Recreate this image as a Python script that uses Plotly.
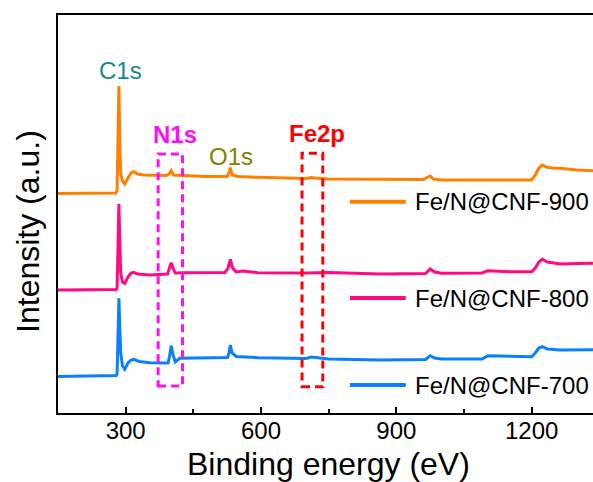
import plotly.graph_objects as go

# XPS survey spectra, binding energy (eV) vs. stacked intensity (a.u.)
energy_900 = [150, 200, 250, 278, 281, 283, 285, 287, 289, 293, 298, 305, 312, 318, 326, 340,
              354, 372, 390, 396, 401, 406, 420, 450, 480, 510, 525, 529, 532, 536, 550, 593,
              650, 700, 712, 720, 750, 800, 864, 960, 970, 975, 982, 1000, 1050, 1100, 1150,
              1200, 1208, 1216, 1224, 1232, 1245, 1263, 1300, 1336]
intensity_900 = [219.5, 219.8, 219.6, 220, 222, 270, 327, 270, 240, 232, 229, 235, 240, 241.3, 239, 238,
                 238, 237.3, 237.5, 239, 242.3, 238, 237.5, 237, 236.5, 236.3, 236.5, 240, 245.3, 238, 236.5, 235.7,
                 235, 234.5, 235.5, 235, 234, 234, 233.7, 233.5, 236, 237, 234, 233, 233, 233, 232.8,
                 233, 238, 245, 248, 246, 245, 244.7, 243, 242.3]

energy_800 = [150, 250, 279, 281, 283, 285, 287, 289, 293, 298, 305, 312, 318, 326, 354, 380,
              393, 397, 401, 405, 410, 430, 480, 520, 527, 532, 537, 545, 560, 593, 700, 750,
              864, 965, 975, 985, 1000, 1050, 1090, 1103, 1150, 1200, 1208, 1216, 1224, 1235,
              1263, 1300, 1336]
intensity_800 = [123, 123.2, 123.5, 125, 180, 209, 170, 140, 131, 129.7, 136, 140, 140.7, 139, 138, 138.5,
                 139, 145, 150.3, 145, 140, 140.3, 140.5, 140.5, 145, 153.7, 145, 141, 142, 140.3, 140, 140.5,
                 139, 139.5, 144, 141, 139.7, 139.5, 140, 142.3, 141.3, 141.3, 145, 151, 153.7, 151,
                 149, 149.5, 149.7]

energy_700 = [150, 250, 279, 281, 283, 285, 287, 289, 293, 298, 305, 312, 318, 330, 354, 380,
              394, 397, 401, 405, 410, 420, 450, 500, 526, 529, 532, 536, 545, 593, 650, 700,
              712, 720, 750, 864, 965, 975, 985, 1000, 1090, 1103, 1150, 1200, 1208, 1216, 1224,
              1235, 1263, 1300, 1336]
intensity_700 = [36.5, 37, 37.5, 39, 90, 114.7, 85, 60, 47, 43.7, 50, 53, 53.7, 51.5, 50.3, 49.7,
                 50, 56, 67.3, 58, 51, 54.7, 55, 55.3, 55.5, 60, 68, 60, 56.5, 55.3, 55, 54.5,
                 56, 55.5, 54, 53, 53.5, 57.3, 55, 54, 54, 57.3, 56.5, 56.3, 60, 65, 66.3,
                 64, 63, 63, 63.3]

series_names = ["Fe/N@CNF-900", "Fe/N@CNF-800", "Fe/N@CNF-700"]
series_colors = ["#FF8000", "#FF0A80", "#0A80FF"]
series_x = [energy_900, energy_800, energy_700]
series_y = [intensity_900, intensity_800, intensity_700]

# legend rows: line-sample start/end energy and row intensity level
legend_x0, legend_x1, legend_text_x = 797, 921, 936
legend_levels = [211.3, 115, 28]

# peak labels: text, energy, intensity level, colour, bold
peak_labels = [("C1s", 288, 343, "#138A8A", False),
               ("N1s", 409, 279, "#FF10F0", True),
               ("O1s", 533, 257, "#808000", False),
               ("Fe2p", 724, 280, "#FF0000", True)]

# dashed region boxes: energy range, intensity range, colour
region_boxes = [(372, 426, 27, 259, "#FF10F0"),
                (691, 737, 26.3, 259.7, "#FF0000")]

FONT = "Arial, Liberation Sans, sans-serif"

fig = go.Figure()
for name, color, xs, ys in zip(series_names, series_colors, series_x, series_y):
    fig.add_trace(go.Scatter(x=xs, y=ys, mode="lines", name=name,
                             line=dict(color=color, width=3), showlegend=False))

shapes = []
annotations = []
for name, color, level in zip(series_names, series_colors, legend_levels):
    shapes.append(dict(type="line", xref="x", yref="y", x0=legend_x0, x1=legend_x1,
                       y0=level, y1=level, line=dict(color=color, width=4)))
    annotations.append(dict(text=name, x=legend_text_x, y=level, xref="x", yref="y",
                            xanchor="left", yanchor="middle", showarrow=False,
                            font=dict(family=FONT, size=24, color="black")))

for x0, x1, y0, y1, color in region_boxes:
    shapes.append(dict(type="rect", xref="x", yref="y", x0=x0, x1=x1, y0=y0, y1=y1,
                       line=dict(color=color, width=3, dash="8px,5px"),
                       fillcolor="rgba(0,0,0,0)"))

for text, x, y, color, bold in peak_labels:
    annotations.append(dict(text=f"<b>{text}</b>" if bold else text, x=x, y=y,
                            xref="x", yref="y", showarrow=False,
                            xanchor="center", yanchor="middle",
                            font=dict(family=FONT, size=24, color=color)))

# axis titles
annotations.append(dict(text="Binding energy (eV)", x=0.505, y=-0.128, xref="paper", yref="paper",
                        xanchor="center", yanchor="middle", showarrow=False,
                        font=dict(family=FONT, size=32, color="black")))
annotations.append(dict(text="Intensity (a.u.)", x=-0.056, y=0.455, xref="paper", yref="paper",
                        xanchor="center", yanchor="middle", textangle=-90, showarrow=False,
                        font=dict(family=FONT, size=32, color="black")))

fig.update_layout(
    width=593, height=482,
    margin=dict(l=58, r=0, t=15, b=69),
    paper_bgcolor="white", plot_bgcolor="white",
    shapes=shapes, annotations=annotations,
    xaxis=dict(range=[150, 1336], tickvals=[300, 600, 900, 1200],
               ticks="inside", ticklen=6, tickwidth=1.5, tickcolor="black",
               ticklabelstandoff=-5,
               minor=dict(tickvals=[450, 750, 1050], ticks="inside", ticklen=4,
                          tickwidth=1.5, tickcolor="black"),
               showline=True, linewidth=2, linecolor="black", mirror=True,
               showgrid=False, zeroline=False,
               tickfont=dict(family=FONT, size=24, color="black")),
    yaxis=dict(range=[0, 398], showticklabels=False, ticks="",
               showline=True, linewidth=2, linecolor="black",
               showgrid=False, zeroline=False),
)

fig.write_html("out.html")
